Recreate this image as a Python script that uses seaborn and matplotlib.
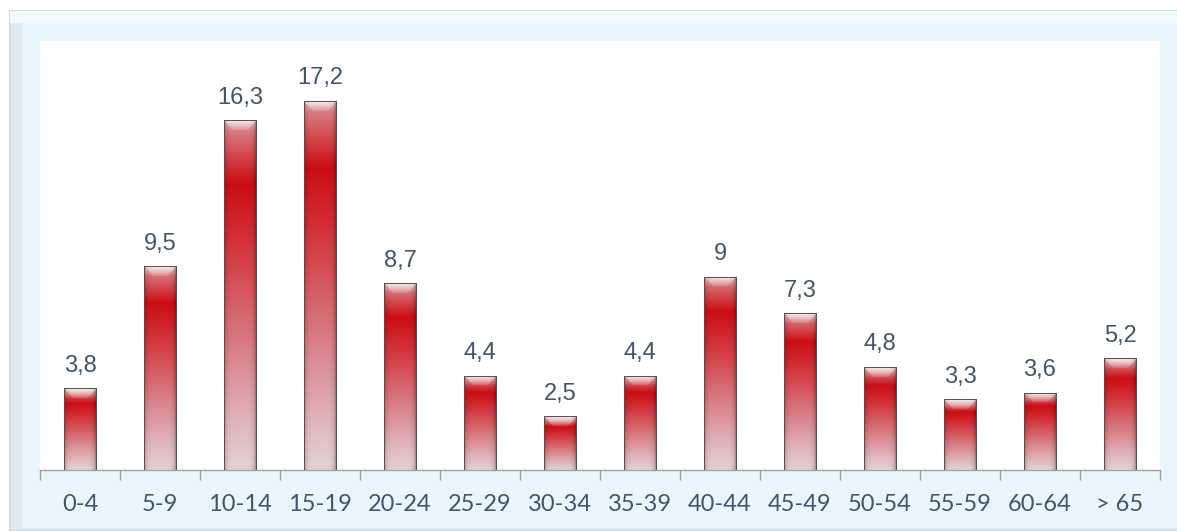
import numpy as np
import pandas as pd
import seaborn as sns
import matplotlib.pyplot as plt
from matplotlib.patches import Rectangle

age_groups = ['0-4', '5-9', '10-14', '15-19', '20-24', '25-29', '30-34',
              '35-39', '40-44', '45-49', '50-54', '55-59', '60-64', '> 65']
percentages = [3.8, 9.5, 16.3, 17.2, 8.7, 4.4, 2.5, 4.4, 9.0, 7.3, 4.8, 3.3, 3.6, 5.2]
value_labels = ['3,8', '9,5', '16,3', '17,2', '8,7', '4,4', '2,5', '4,4', '9',
                '7,3', '4,8', '3,3', '3,6', '5,2']

TEXT_COLOR = '#44546A'
FRAME_BLUE = '#EAF6FD'

sns.set_style('white')
plt.rcParams['font.family'] = ['Lato', 'DejaVu Sans']

df = pd.DataFrame({'age': age_groups, 'pct': percentages})

W, H = 1177, 531
fig = plt.figure(figsize=(W / 100, H / 100), dpi=100, facecolor='white')

# outer frame with a light bevel on top / left
fig.add_artist(Rectangle((10 / W, 0), 1, 1 - 11 / H, transform=fig.transFigure,
                         facecolor='#DFEBF3', edgecolor='#C9D6E0', lw=1.2, zorder=-10))
fig.add_artist(Rectangle((10 / W, 1 - 23 / H), 1, 12 / H, transform=fig.transFigure,
                         facecolor='#F4F9FC', edgecolor='none', zorder=-9))
fig.add_artist(Rectangle((22 / W, 3 / H), 1, 1 - 26 / H, transform=fig.transFigure,
                         facecolor=FRAME_BLUE, edgecolor='none', zorder=-8))

ax = fig.add_axes([40 / W, 61 / H, 1120 / W, 429 / H])
ax.set_facecolor('white')

sns.barplot(data=df, x='age', y='pct', color='#D0101A', width=0.41,
            saturation=1, ax=ax, zorder=2)

ax.set_ylim(0, 20)
ax.set_xlim(-0.5, len(age_groups) - 0.5)
fig.canvas.draw()

px_per_unit = ax.transData.transform((0, 1))[1] - ax.transData.transform((0, 0))[1]

# vertical colour profile of a bar (top -> bottom)
stops = np.array([0.0, 0.06, 0.18, 0.35, 0.6, 0.85, 1.0])
reds = np.array([[0.86, 0.58, 0.60],
                 [0.84, 0.40, 0.42],
                 [0.80, 0.05, 0.08],
                 [0.83, 0.20, 0.23],
                 [0.85, 0.45, 0.48],
                 [0.88, 0.70, 0.72],
                 [0.90, 0.83, 0.84]])

for patch, lab in zip(ax.patches, value_labels):
    x0, w, h = patch.get_x(), patch.get_width(), patch.get_height()
    rows = max(int(h * px_per_unit), 10)
    cols = 33
    t = np.linspace(0, 1, rows)
    col = np.stack([np.interp(t, stops, reds[:, k]) for k in range(3)], axis=1)
    img = np.repeat(col[:, None, :], cols, axis=1)

    # top bevel: light trapezoid
    bev = 10
    u = np.linspace(0, 1, cols)
    for r in range(min(bev, rows)):
        a = 1 - r / bev
        inner = np.abs(u - 0.5) < 0.5 - 0.3 * r / bev
        mix = np.where(inner, 0.85 * a + 0.1, 0.5 * a)
        img[r] = img[r] * (1 - mix[:, None]) + np.array([0.98, 0.94, 0.94]) * mix[:, None]
    # bottom bevel
    for r in range(min(7, rows)):
        a = 1 - r / 7
        img[rows - 1 - r] = img[rows - 1 - r] * (1 - 0.5 * a) + np.array([0.84, 0.80, 0.80]) * 0.5 * a

    # side shading, darker on the right
    shade = 1 - 0.25 * np.exp(-u / 0.07) - 0.45 * np.exp(-(1 - u) / 0.06)
    img = np.clip(img * shade[None, :, None], 0, 1)

    im = ax.imshow(img, extent=[x0, x0 + w, 0, h], aspect='auto',
                   interpolation='bilinear', zorder=3)
    im.set_clip_path(patch)
    patch.set_facecolor('none')
    patch.set_edgecolor('#5E4A4A')
    patch.set_linewidth(0.7)
    patch.set_zorder(4)

    ax.annotate(lab, (x0 + w / 2, h), xytext=(0, 12), textcoords='offset points',
                ha='center', va='baseline', fontsize=17, color=TEXT_COLOR,
                family=['Liberation Sans Narrow', 'Liberation Sans', 'DejaVu Sans'])

ax.set_ylim(0, 20)
ax.set_xlim(-0.5, len(age_groups) - 0.5)
ax.set_xlabel('')
ax.set_ylabel('')
ax.set_yticks([])
ax.set_xticks(range(len(age_groups)))
ax.set_xticklabels(age_groups)
ax.set_xticks(np.arange(-0.5, len(age_groups), 1), minor=True)
ax.tick_params(axis='x', which='major', length=0, pad=17, labelsize=17,
               labelcolor=TEXT_COLOR)
ax.tick_params(axis='x', which='minor', length=7, width=1, color='#A0A0A0',
               direction='out', bottom=True)

for s in ['top', 'left', 'right']:
    ax.spines[s].set_visible(False)
ax.spines['bottom'].set_color('#A0A0A0')
ax.spines['bottom'].set_linewidth(1)

fig.savefig('out.png', dpi=100, facecolor='white')
